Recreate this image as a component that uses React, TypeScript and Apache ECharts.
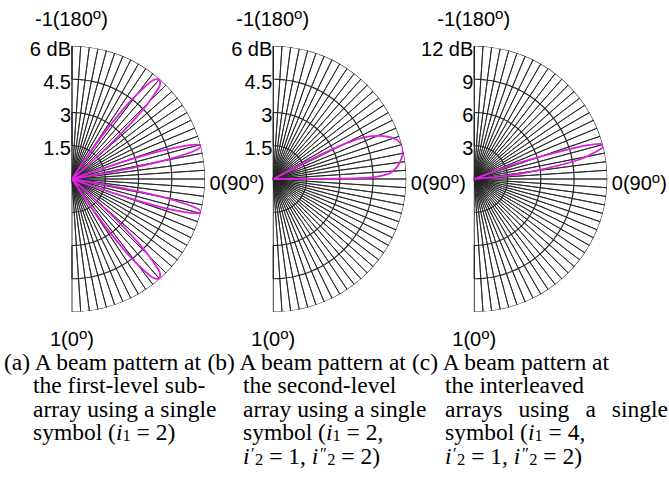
import React, { useEffect, useRef } from "react";
import * as echarts from "echarts";

// ---------------- data ----------------
// theta in degrees: 0 = bottom (u=1), 90 = right (u=0), 180 = top (u=-1); value = gain in dB
const patternA_lobe1: number[][] = [[33.6,0],[34.0,1.1],[34.7,2.2],[35.6,3.2],[36.7,4.3],[38.3,5.3],[39.8,5.85],[41.3,6.0],[42.8,5.85],[44.3,5.3],[45.9,4.3],[47.0,3.2],[47.9,2.2],[48.6,1.1],[49.0,0]];
const patternA_lobe2: number[][] = [[70.5,0],[70.8,1.1],[71.3,2.2],[71.9,3.2],[72.6,4.3],[73.6,5.3],[74.6,5.85],[75.6,6.0],[76.6,5.85],[77.6,5.3],[78.6,4.3],[79.3,3.2],[79.9,2.2],[80.4,1.1],[80.7,0]];
const patternA_lobe3: number[][] = [[99.3,0],[99.6,1.1],[100.1,2.2],[100.7,3.2],[101.4,4.3],[102.4,5.3],[103.4,5.85],[104.4,6.0],[105.4,5.85],[106.4,5.3],[107.4,4.3],[108.1,3.2],[108.7,2.2],[109.2,1.1],[109.5,0]];
const patternA_lobe4: number[][] = [[131.0,0],[131.4,1.1],[132.1,2.2],[133.0,3.2],[134.1,4.3],[135.7,5.3],[137.2,5.85],[138.7,6.0],[140.2,5.85],[141.7,5.3],[143.3,4.3],[144.4,3.2],[145.3,2.2],[146.0,1.1],[146.4,0]];
const patternB: number[][] = [[90.0,0],[90.3,2.5],[90.8,4.3],[92.8,5.25],[95.5,5.6],[98.5,5.82],[101,5.95],[103.5,6.0],[106,5.95],[108,5.8],[110,5.55],[112.2,5.15],[114.4,4.6],[116,3.8],[117,2.7],[117.6,1.5],[118,0]];
const patternC: number[][] = [[95.3,0],[95.6,1.8],[95.9,3.5],[98.4,6.6],[100.6,9.7],[103.5,11.8],[104.8,12.0],[105.6,11.8],[107,10.0],[108.3,6.9],[110.8,3.1],[111.2,1.5],[111.5,0]];

const radialMax = [6, 6, 12];
const ringValuesAB = [1.5, 3, 4.5, 6];
const ringValuesC = [3, 6, 9, 12];
const ringLabelsAB = ["1.5", "3", "4.5", "6 dB"];
const ringLabelsC = ["3", "6", "9", "12 dB"];
const angleLabelTop = "-1(180";
const angleLabelRight = "0(90";
const angleLabelBottom = "1(0";

type Run = { t: string; it?: boolean; pos?: "sub" | "sup"; dx?: number };
type Line = { runs: Run[]; justifyTo?: number };
const primeLine = (v: string): Line => ({ runs: [
  { t: "i", it: true }, { t: "\u2032", pos: "sup", dx: 1.5 }, { t: "2", pos: "sub", dx: 0.5 }, { t: " = 1, " },
  { t: "i", it: true }, { t: "\u2033", pos: "sup", dx: 1.5 }, { t: "2", pos: "sub", dx: 0.5 }, { t: ` = ${v})` },
] });
const captionA: Line[] = [
  { runs: [{ t: "(a) A beam pattern at" }] },
  { runs: [{ t: "the first-level sub-" }] },
  { runs: [{ t: "array using a single" }] },
  { runs: [{ t: "symbol (" }, { t: "i", it: true }, { t: "1", pos: "sub" }, { t: " = 2)" }] },
];
const captionB: Line[] = [
  { runs: [{ t: "(b) A beam pattern at" }] },
  { runs: [{ t: "the second-level" }] },
  { runs: [{ t: "array using a single" }] },
  { runs: [{ t: "symbol (" }, { t: "i", it: true }, { t: "1", pos: "sub" }, { t: " = 2," }] },
  primeLine("2"),
];
const captionC: Line[] = [
  { runs: [{ t: "(c) A beam pattern at" }] },
  { runs: [{ t: "the interleaved" }] },
  { runs: [{ t: "arrays using a single" }], justifyTo: 668 },
  { runs: [{ t: "symbol (" }, { t: "i", it: true }, { t: "1", pos: "sub" }, { t: " = 4," }] },
  primeLine("2"),
];

// ---------------- layout ----------------
const CX = [72, 273.3, 474.3];
const CY = 179;
const RAD = 133;
const SERIF = '"Liberation Serif", "Times New Roman", serif';
const SANS = '"Liberation Sans", Arial, sans-serif';
const GRID = "#262626";
const MAGENTA = "#e020e0";
const CAP_SIZE = 23.5;

let mctx: CanvasRenderingContext2D | null = null;
function measure(text: string, font: string) {
  if (!mctx) mctx = document.createElement("canvas").getContext("2d");
  mctx!.font = font;
  return mctx!.measureText(text).width;
}

function textEl(t: string, x: number, y: number, font: string, align = "left") {
  return {
    type: "text", x, y, silent: true,
    style: { text: t, font, fill: "#000", textAlign: align, textVerticalAlign: "middle", align, verticalAlign: "middle" },
  };
}

function layoutRuns(runs: Run[], x0: number, yc: number, size: number, family: string,
  o: { scale: number; subShift: number; supShift: number }) {
  const els: any[] = [];
  let x = x0;
  for (const r of runs) {
    const s = r.pos ? size * o.scale : size;
    const font = `${r.it ? "italic " : ""}${s}px ${family}`;
    const w = measure(r.t, font);
    const xs = x + (r.dx || 0);
    const y = yc + (r.pos === "sub" ? o.subShift : r.pos === "sup" ? -o.supShift : 0);
    els.push(textEl(r.t, xs, y, font));
    x = xs + w;
  }
  return els;
}

function justifyLine(text: string, x0: number, x1: number, yc: number, size: number, family: string) {
  const font = `${size}px ${family}`;
  const words = text.split(" ");
  const widths = words.map((w) => measure(w, font));
  const total = widths.reduce((a, b) => a + b, 0);
  const gap = (x1 - x0 - total) / (words.length - 1);
  const els: any[] = [];
  let x = x0;
  words.forEach((w, k) => { els.push(textEl(w, x, yc, font)); x += widths[k] + gap; });
  return els;
}

function ringData(values: number[]) {
  const d: number[][] = [];
  values.forEach((v, k) => {
    for (let j = 0; j <= 180; j++) {
      const th = k % 2 === 0 ? j : 180 - j;
      d.push([v, th]);
    }
  });
  return d;
}
function spokeData(max: number) {
  const d: number[][] = [];
  const step = 3.75;
  for (let k = 0; k * step <= 180.001; k++) {
    d.push([max, k * step]);
    d.push([0, k * step]);
  }
  return d;
}
const toPolar = (p: number[][]) => p.map(([th, db]) => [db, th]);

export default function App() {
  const ref = useRef<HTMLDivElement>(null);
  useEffect(() => {
    const chart = echarts.init(ref.current!, null, { renderer: "svg" });
    const polar: any[] = [], angleAxis: any[] = [], radiusAxis: any[] = [], series: any[] = [];
    const patterns = [[patternA_lobe1, patternA_lobe2, patternA_lobe3, patternA_lobe4], [patternB], [patternC]];
    const graphic: any[] = [];
    for (let i = 0; i < 3; i++) {
      polar.push({ center: [CX[i], CY], radius: RAD });
      angleAxis.push({ polarIndex: i, type: "value", min: 0, max: 360, startAngle: 270, clockwise: false,
        axisLine: { show: false }, axisTick: { show: false }, axisLabel: { show: false }, splitLine: { show: false } });
      radiusAxis.push({ polarIndex: i, type: "value", min: 0, max: radialMax[i],
        axisLine: { show: false }, axisTick: { show: false }, axisLabel: { show: false }, splitLine: { show: false } });
      const rings = i === 2 ? ringValuesC : ringValuesAB;
      series.push({ type: "line", coordinateSystem: "polar", polarIndex: i, data: spokeData(radialMax[i]),
        showSymbol: false, symbol: "none", silent: true, lineStyle: { color: GRID, width: 0.9 }, z: 1 });
      series.push({ type: "line", coordinateSystem: "polar", polarIndex: i, data: ringData(rings),
        showSymbol: false, symbol: "none", silent: true, lineStyle: { color: GRID, width: 1.2 }, z: 1 });
      patterns[i].forEach((p) => {
        series.push({ type: "line", coordinateSystem: "polar", polarIndex: i, data: toPolar(p),
          showSymbol: false, symbol: "none", silent: true, smooth: 0.3,
          lineStyle: { color: MAGENTA, width: 1.8 }, z: 3 });
      });
      // radial tick labels
      const labels = i === 2 ? ringLabelsC : ringLabelsAB;
      rings.forEach((v, k) => {
        graphic.push(textEl(labels[k], CX[i] - 1, CY - (RAD * v) / radialMax[i] + 2.5, `20px ${SANS}`, "right"));
      });
      const so = { scale: 0.75, subShift: 0, supShift: 5.5 };
      graphic.push(...layoutRuns([{ t: angleLabelTop }, { t: "o", pos: "sup" }, { t: ")" }], CX[i] - 37, 19, 20, SANS, so));
      graphic.push(...layoutRuns([{ t: angleLabelRight }, { t: "o", pos: "sup" }, { t: ")" }], CX[i] + 137.5, 183, 20, SANS, so));
      graphic.push(...layoutRuns([{ t: angleLabelBottom }, { t: "o", pos: "sup" }, { t: ")" }], CX[i] - 22, 338.5, 20, SANS, so));
    }
    const caps = [captionA, captionB, captionC];
    const capX = [[4, 33], [207.5, 243], [412, 445]];
    const co = { scale: 0.7, subShift: 3.5, supShift: 2 };
    caps.forEach((cap, c) => {
      cap.forEach((line, k) => {
        const x0 = k === 0 ? capX[c][0] : capX[c][1];
        const yc = 361.5 + k * 23.5;
        if (line.justifyTo) graphic.push(...justifyLine(line.runs.map((r) => r.t).join(""), x0, line.justifyTo, yc, CAP_SIZE, SERIF));
        else graphic.push(...layoutRuns(line.runs, x0, yc, CAP_SIZE, SERIF, co));
      });
    });
    chart.setOption({ animation: false, backgroundColor: "#fff", polar, angleAxis, radiusAxis, series, graphic });
    return () => chart.dispose();
  }, []);
  return <div ref={ref} style={{ position: "fixed", left: 0, top: 0, width: 669, height: 487, background: "#fff" }} />;
}
